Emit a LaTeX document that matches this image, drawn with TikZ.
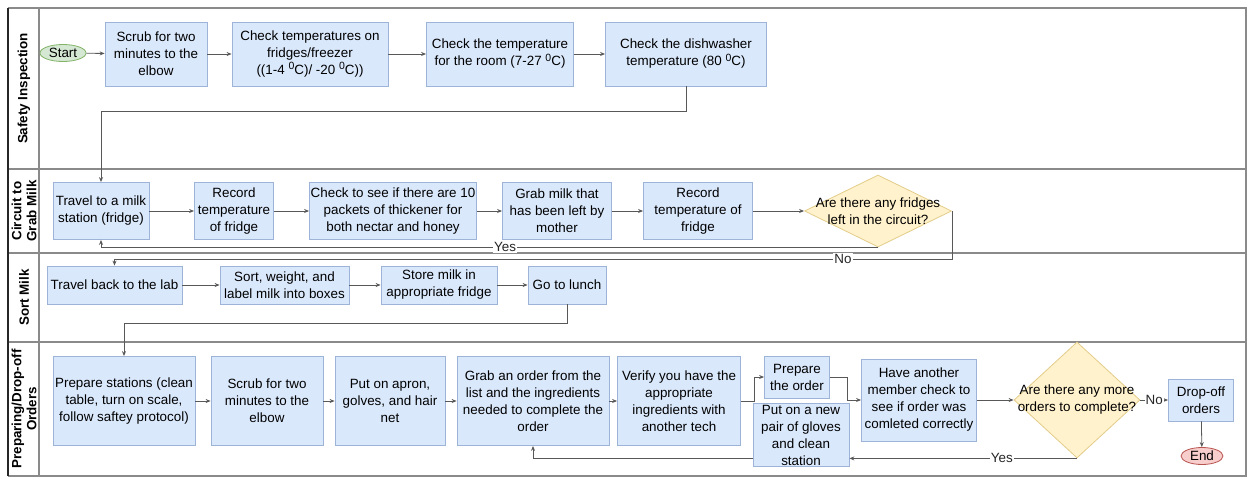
\documentclass[tikz,border=0pt]{standalone}
\usepackage{fontspec}
\setmainfont{Liberation Sans}
\usetikzlibrary{shapes.geometric,arrows.meta}
\definecolor{boxfill}{HTML}{DAE8FC}
\definecolor{boxline}{HTML}{9DB4D8}
\definecolor{decfill}{HTML}{FFF2CC}
\definecolor{decline}{HTML}{E3CD8A}
\definecolor{startfill}{HTML}{D5E8D4}
\definecolor{startline}{HTML}{82B366}
\definecolor{endfill}{HTML}{F8CECC}
\definecolor{endline}{HTML}{B85450}
\definecolor{lanec}{HTML}{8A8A8A}
\definecolor{conn}{HTML}{585858}
\newcommand{\degz}{\raisebox{4.5pt}{\fontsize{10.5}{10.5}\selectfont 0}}
\begin{document}
\begin{tikzpicture}[x=1pt,y=-1pt,
  every node/.style={font=\fontsize{13.4}{17}\selectfont},
  proc/.style={draw=boxline, fill=boxfill, line width=0.8pt, align=center, inner sep=1pt},
  dec/.style={diamond, draw=decline, fill=decfill, line width=0.8pt, inner sep=0pt, aspect=1},
  dectext/.style={align=center, inner sep=0pt},
  term/.style={ellipse, line width=0.8pt, inner sep=0pt},
  lanelbl/.style={rotate=90, align=center, font=\bfseries\fontsize{13.4}{15}\selectfont, inner sep=0pt},
  arr/.style={draw=conn, line width=0.8pt, -{Stealth[length=5pt,width=4pt]}},
  lbl/.style={fill=white, inner sep=1pt, text=black!85}
]
\useasboundingbox (0,0) rectangle (1248,477);
% lanes
\draw[lanec, line width=1.2pt] (8,8) -- (1246,8) -- (1246,476) -- (8,476);
\draw[lanec, line width=1.2pt] (8,169) -- (1246,169);
\draw[lanec, line width=1.2pt] (8,253) -- (1246,253);
\draw[lanec, line width=1.2pt] (8,342) -- (1246,342);
\draw[lanec, line width=1.2pt] (39,8) -- (39,476);
\draw[black!85, line width=2.5pt] (8,8) -- (8,476);
\node[lanelbl] (l1) at (24,88.5) {Safety Inspection};
\node[lanelbl] (l2) at (24,211) {Circuit to\\Grab Milk};
\node[lanelbl] (l3) at (24,297.5) {Sort Milk};
\node[lanelbl] (l4) at (24,409) {Preparing/Drop-off\\Orders};

% lane 1
\node[term, draw=startline, fill=startfill, minimum width=46, minimum height=17] (start) at (63,53) {Start};
\node[proc, minimum width=102, minimum height=64] (scrub1) at (156,54) {Scrub for two\\minutes to the\\elbow};
\node[proc, minimum width=156, minimum height=64] (chk1) at (310,54) {Check temperatures on\\fridges/freezer\\((1-4 \degz C)/ -20 \degz C))};
\node[proc, minimum width=147, minimum height=64] (room) at (500,54) {Check the temperature\\for the room (7-27 \degz C)};
\node[proc, minimum width=161, minimum height=64] (dish) at (686,54) {Check the dishwasher\\temperature (80 \degz C)};

% lane 2
\node[proc, minimum width=96, minimum height=57] (travel) at (101,211) {Travel to a milk\\station (fridge)};
\node[proc, minimum width=79, minimum height=57] (rec1) at (234,211) {Record\\temperature\\of fridge};
\node[proc, minimum width=167, minimum height=57] (thick) at (393,211) {Check to see if there are 10\\packets of thickener for\\both nectar and honey};
\node[proc, minimum width=109, minimum height=57] (grab) at (557,211) {Grab milk that\\has been left by\\mother};
\node[proc, minimum width=109, minimum height=57] (rec2) at (698,211) {Record\\temperature of\\fridge};
\node[dec, minimum width=147, minimum height=72] (d1) at (878,211) {};
\node[dectext] (d1t) at (d1.center) {Are there any fridges\\left in the circuit?};

% lane 3
\node[proc, minimum width=135, minimum height=38] (back) at (114.5,285) {Travel back to the lab};
\node[proc, minimum width=129, minimum height=38] (sort) at (284.5,285) {Sort, weight, and\\label milk into boxes};
\node[proc, minimum width=116, minimum height=38] (store) at (439,285) {Store milk in\\appropriate fridge};
\node[proc, minimum width=78, minimum height=38] (lunch) at (567,285) {Go to lunch};

% lane 4
\node[proc, minimum width=142, minimum height=89] (prep) at (124,401) {Prepare stations (clean\\table, turn on scale,\\follow saftey protocol)};
\node[proc, minimum width=112, minimum height=89] (scrub2) at (267,401) {Scrub for two\\minutes to the\\elbow};
\node[proc, minimum width=110, minimum height=89] (apron) at (390,401) {Put on apron,\\golves, and hair\\net};
\node[proc, minimum width=152, minimum height=89] (order) at (533,401) {Grab an order from the\\list and the ingredients\\needed to complete the\\order};
\node[proc, minimum width=123, minimum height=89] (verify) at (679,401) {Verify you have the\\appropriate\\ingredients with\\another tech};
\node[proc, minimum width=65, minimum height=42] (prepord) at (797,377) {Prepare\\the order};
\node[proc, minimum width=96, minimum height=61] (gloves) at (801,435) {Put on a new\\pair of gloves\\and clean\\station};
\node[proc, minimum width=115, minimum height=82] (check) at (919,400) {Have another\\member check to\\see if order was\\comleted correctly};
\node[dec, minimum width=126, minimum height=116] (d2) at (1077,400) {};
\node[dectext] (d2t) at (d2.center) {Are there any more\\orders to complete?};
\node[proc, minimum width=65, minimum height=42] (drop) at (1201,400) {Drop-off\\orders};
\node[term, draw=endline, fill=endfill, minimum width=42, minimum height=17] (end) at (1202,456) {End};

% connectors lane 1
\draw[arr] (start) -- (scrub1);
\draw[arr] (scrub1) -- (chk1);
\draw[arr] (chk1) -- (room);
\draw[arr] (room) -- (dish);
\draw[arr] (dish.south) -- (dish.south |- 0,111) -| (travel.north);
% lane 2
\draw[arr] (travel) -- (rec1);
\draw[arr] (rec1) -- (thick);
\draw[arr] (thick) -- (grab);
\draw[arr] (grab) -- (rec2);
\draw[arr] (rec2) -- (d1);
\draw[arr] (d1.south) -| node[lbl, pos=0.24] {Yes} (travel.south);
\draw[arr] (d1.east) -- (d1.east |- 0,259) -| node[lbl, pos=0.065] {No} (back.north);
% lane 3
\draw[arr] (back) -- (sort);
\draw[arr] (sort) -- (store);
\draw[arr] (store) -- (lunch);
\draw[arr] (lunch.south) -- (lunch.south |- 0,323) -| (prep.north);
% lane 4
\draw[arr] (prep) -- (scrub2);
\draw[arr] (scrub2) -- (apron);
\draw[arr] (apron) -- (order);
\draw[arr] (order) -- (verify);
\draw[arr] (verify.east) -- ++(13,0) |- (prepord.west);
\draw[arr] (prepord.east) -- ++(17,0) |- (check.west);
\draw[arr] (check) -- (d2);
\draw[arr] (d2) -- node[lbl] {No} (drop);
\draw[arr] (drop) -- (end);
\draw[arr] (d2.south) -- (d2.south -| gloves.east) node[lbl, pos=0.33] {Yes};
\draw[arr] (gloves.west |- d2.south) -| (order.south);
\end{tikzpicture}
\end{document}
